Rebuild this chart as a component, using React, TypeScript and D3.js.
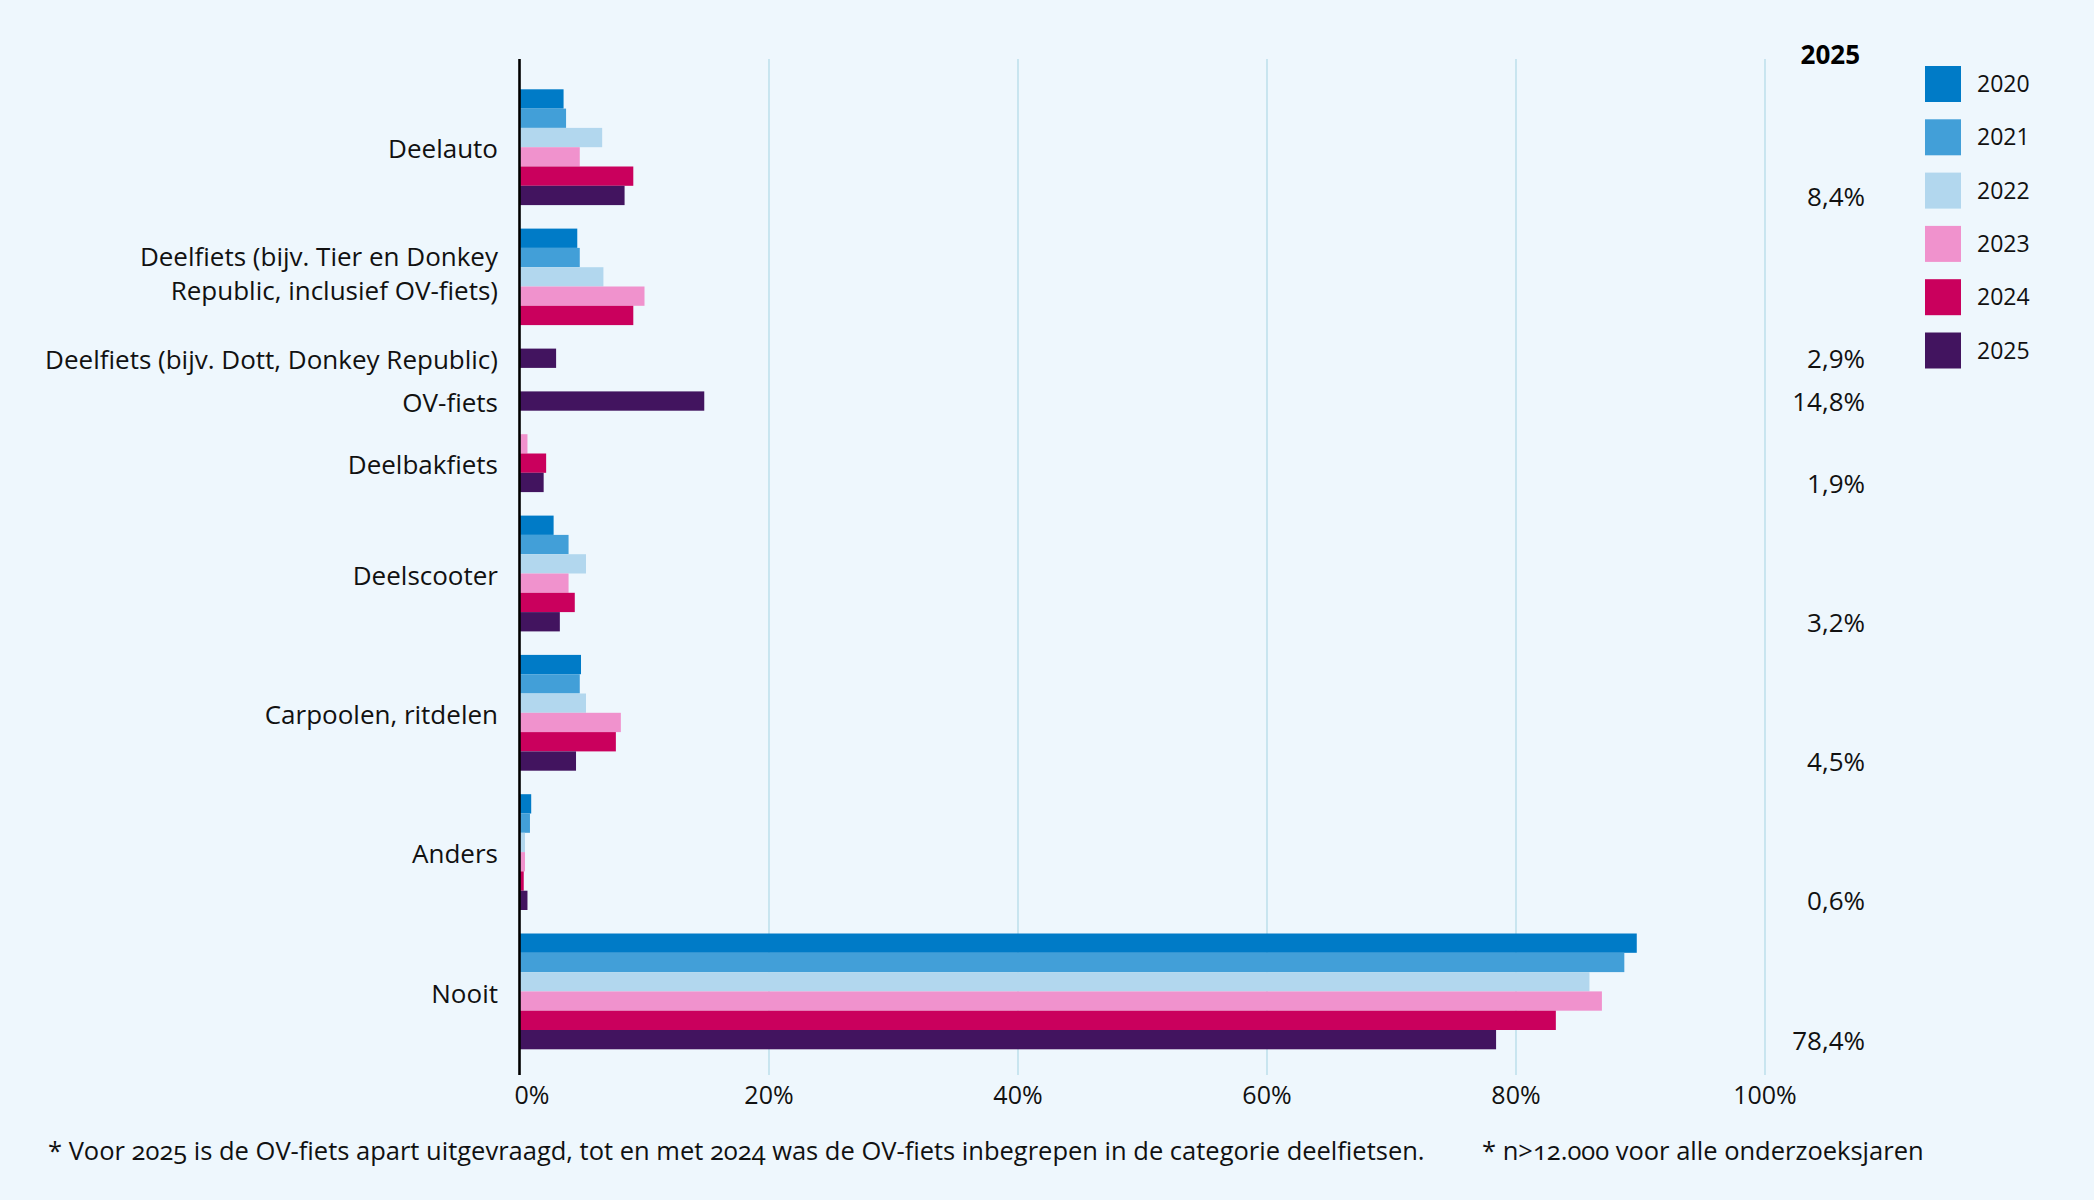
import { useEffect, useRef } from 'react';
import * as d3 from 'd3';

const categories = [
  'Deelauto',
  'Deelfiets (bijv. Tier en Donkey Republic, inclusief OV-fiets)',
  'Deelfiets (bijv. Dott, Donkey Republic)',
  'OV-fiets',
  'Deelbakfiets',
  'Deelscooter',
  'Carpoolen, ritdelen',
  'Anders',
  'Nooit',
];

// some labels wrap onto two lines
const categoryLines = [
  ['Deelauto'],
  ['Deelfiets (bijv. Tier en Donkey', 'Republic, inclusief OV-fiets)'],
  ['Deelfiets (bijv. Dott, Donkey Republic)'],
  ['OV-fiets'],
  ['Deelbakfiets'],
  ['Deelscooter'],
  ['Carpoolen, ritdelen'],
  ['Anders'],
  ['Nooit'],
];

const years = ['2020', '2021', '2022', '2023', '2024', '2025'];

const values2020 = [3.5, 4.6, null, null, null, 2.7, 4.9, 0.9, 89.7];
const values2021 = [3.7, 4.8, null, null, null, 3.9, 4.8, 0.8, 88.7];
const values2022 = [6.6, 6.7, null, null, null, 5.3, 5.3, 0.4, 85.9];
const values2023 = [4.8, 10.0, null, null, 0.6, 3.9, 8.1, 0.4, 86.9];
const values2024 = [9.1, 9.1, null, null, 2.1, 4.4, 7.7, 0.3, 83.2];
const values2025 = [8.4, null, 2.9, 14.8, 1.9, 3.2, 4.5, 0.6, 78.4];

const seriesValues: (number | null)[][] = [values2020, values2021, values2022, values2023, values2024, values2025];

const colors = ['#007bc7', '#429fd8', '#b2d7ee', '#f092cd', '#ca005d', '#42145f'];

const xTicks = [0, 20, 40, 60, 80, 100];

const footnoteLeft = '* Voor 2025 is de OV-fiets apart uitgevraagd, tot en met 2024 was de OV-fiets inbegrepen in de categorie deelfietsen.';
const footnoteRight = '* n>12.000 voor alle onderzoeksjaren';

const width = 2094;
const height = 1200;
const font = '"Open Sans", "Noto Sans", sans-serif';

const ChartSvg = () => {
  const svgRef = useRef<SVGSVGElement | null>(null);

  useEffect(() => {
    const svg = d3.select(svgRef.current);
    svg.selectAll('*').remove();
    svg.attr('width', width).attr('height', height);

    svg.append('rect')
      .attr('width', width)
      .attr('height', height)
      .attr('fill', '#eef7fd');

    const x = d3.scaleLinear().domain([0, 100]).range([520, 1765]);

    const top = 89.3;
    const barH = 19.3;
    const groupGap = 23.5;
    const lineTop = 59;
    const lineBottom = 1075;

    // gridlines
    svg.append('g')
      .selectAll('line')
      .data(xTicks.filter(t => t > 0))
      .enter()
      .append('line')
      .attr('x1', d => x(d))
      .attr('x2', d => x(d))
      .attr('y1', lineTop)
      .attr('y2', lineBottom)
      .attr('stroke', '#bfe0ec')
      .attr('stroke-width', 1.6);

    // groups: only years with a value get a bar, packed together
    let cursor = top;
    const groups = categories.map((cat, ci) => {
      const present = years.filter((_, yi) => seriesValues[yi][ci] != null);
      const y = d3.scaleBand<string>()
        .domain(present)
        .range([cursor, cursor + present.length * barH]);
      const g = { cat, ci, present, y, start: cursor, end: cursor + present.length * barH };
      cursor = g.end + groupGap;
      return g;
    });

    const chart = svg.append('g');

    groups.forEach(g => {
      g.present.forEach(yr => {
        const yi = years.indexOf(yr);
        const v = seriesValues[yi][g.ci] as number;
        chart.append('rect')
          .attr('x', x(0))
          .attr('y', g.y(yr) as number)
          .attr('width', x(v) - x(0))
          .attr('height', g.y.bandwidth())
          .attr('fill', colors[yi]);
      });

      // category label
      const lines = categoryLines[g.ci];
      const multi = lines.length > 1;
      const mid = (g.start + g.end) / 2 + (multi ? -3 : 2);
      const lh = 34.7;
      const label = svg.append('text')
        .attr('x', 498)
        .attr('text-anchor', 'end')
        .style('font-family', font)
        .style('font-size', '26px')
        .attr('fill', '#111');
      lines.forEach((ln, li) => {
        label.append('tspan')
          .attr('x', 498)
          .attr('y', mid + (li - (lines.length - 1) / 2) * lh)
          .attr('dy', '0.35em')
          .text(ln);
      });

      // 2025 value column
      const v25 = values2025[g.ci];
      if (v25 != null) {
        svg.append('text')
          .attr('x', 1865)
          .attr('y', (g.y('2025') as number) + g.y.bandwidth() / 2 + 1)
          .attr('dy', '0.35em')
          .attr('text-anchor', 'end')
          .style('font-family', font)
          .style('font-size', '26px')
          .attr('fill', '#111')
          .text(d3.format('.1f')(v25).replace('.', ',') + '%');
      }
    });

    // y axis line
    svg.append('line')
      .attr('x1', 519.5)
      .attr('x2', 519.5)
      .attr('y1', lineTop)
      .attr('y2', lineBottom)
      .attr('stroke', '#000')
      .attr('stroke-width', 2.6);

    // x tick labels
    svg.append('g')
      .selectAll('text')
      .data(xTicks)
      .enter()
      .append('text')
      .attr('x', d => x(d) + (d === 0 ? 12 : 0))
      .attr('y', 1095)
      .attr('dy', '0.35em')
      .attr('text-anchor', 'middle')
      .style('font-family', font)
      .style('font-size', '25px')
      .attr('fill', '#111')
      .text(d => `${d}%`);

    // header above value column
    svg.append('text')
      .attr('x', 1860)
      .attr('y', 55)
      .attr('dy', '0.35em')
      .attr('text-anchor', 'end')
      .style('font-family', font)
      .style('font-size', '26px')
      .style('font-weight', 'bold')
      .attr('fill', '#000')
      .text('2025');

    // legend
    const legend = svg.append('g').attr('transform', 'translate(1925, 66)');
    years.forEach((yr, i) => {
      const row = legend.append('g').attr('transform', `translate(0, ${i * 53.3})`);
      row.append('rect')
        .attr('width', 36)
        .attr('height', 36)
        .attr('fill', colors[i]);
      row.append('text')
        .attr('x', 52)
        .attr('y', 18)
        .attr('dy', '0.35em')
        .style('font-family', font)
        .style('font-size', '23px')
        .attr('fill', '#111')
        .text(yr);
    });

    // footnotes
    svg.append('text')
      .attr('x', 48)
      .attr('y', 1151)
      .attr('dy', '0.35em')
      .style('font-family', font)
      .style('font-size', '25.5px')
      .style('font-variant-numeric', 'oldstyle-nums')
      .attr('fill', '#111')
      .text(footnoteLeft);

    svg.append('text')
      .attr('x', 1482)
      .attr('y', 1151)
      .attr('dy', '0.35em')
      .style('font-family', font)
      .style('font-size', '25.5px')
      .style('font-variant-numeric', 'oldstyle-nums')
      .attr('fill', '#111')
      .text(footnoteRight);
  }, []);

  return <svg ref={svgRef} style={{ position: 'absolute', left: 0, top: 0, display: 'block' }}></svg>;
};

export default function App() {
  return <ChartSvg />;
}
